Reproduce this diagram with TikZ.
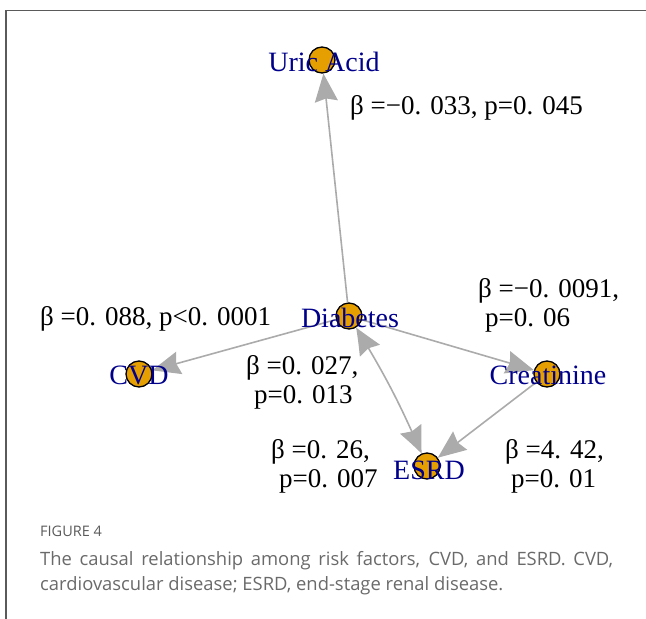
\documentclass[tikz,border=0pt]{standalone}
\usepackage{fontspec}
\setmainfont{Liberation Serif}
\newfontfamily\capfont{Open Sans}
\usetikzlibrary{arrows.meta,bending}
\pgfdeclarelayer{background}
\pgfsetlayers{background,main}
\definecolor{nodeorange}{HTML}{E69F00}
\definecolor{labblue}{HTML}{00008B}
\definecolor{edgegray}{HTML}{ABABAB}
\definecolor{framegray}{HTML}{5A5A5A}
\definecolor{capgray}{HTML}{6A6A6A}
\definecolor{figgray}{HTML}{5A5A5A}
\begin{document}
\begin{tikzpicture}[x=1pt,y=-1pt,
  vert/.style={circle,draw=black,line width=1.3pt,fill=nodeorange,minimum size=26pt,inner sep=0pt},
  vlab/.style={text=labblue,font=\fontsize{28}{30}\selectfont,inner sep=0pt},
  elab/.style={font=\fontsize{27}{29}\selectfont,inner sep=0pt,align=left,anchor=west},
  edgeline/.style={draw=edgegray,line width=1.6pt,-{Stealth[length=28pt,width=23pt,inset=3pt,bend]}}]
\useasboundingbox (0,0) rectangle (646,619);
\draw[framegray,line width=1.6pt] (6,619) -- (6,10.5) -- (646,10.5);
% vertices
\node[vert] (ua) at (322,60) {};
\node[vert] (db) at (349,316) {};
\node[vert] (cvd) at (139,374) {};
\node[vert] (cr) at (547,374) {};
\node[vert] (es) at (427,466) {};
% edges
\begin{pgfonlayer}{background}
\draw[edgeline] (db) -- (ua);
\draw[edgeline] (db) -- (cvd);
\draw[edgeline] (db) -- (cr);
\draw[edgeline] (cr) -- (es);
\draw[draw=edgegray,line width=1.6pt,{Stealth[length=28pt,width=23pt,inset=3pt,bend]}-{Stealth[length=28pt,width=23pt,inset=3pt,bend]}] (db) to[bend left=4] (es);
\end{pgfonlayer}
% vertex labels
\node[vlab] (lua) at (324,62) {Uric Acid};
\node[vlab] (ldb) at (350,318) {Diabetes};
\node[vlab] (lcvd) at (139,375) {CVD};
\node[vlab] (lcr) at (548,375) {Creatinine};
\node[vlab] (les) at (429,470) {ESRD};
% edge labels
\node[elab] (e1) at (350,108) {β =−0. 033, p=0. 045};
\node[elab] (e2) at (40,319) {β =0. 088, p<0. 0001};
\node[elab] (e3) at (478,305) {β =−0. 0091,\\\hspace{7pt}p=0. 06};
\node[elab] (e4) at (246,382) {β =0. 027,\\\hspace{8pt}p=0. 013};
\node[elab] (e5) at (271,466) {β =0. 26,\\\hspace{8pt}p=0. 007};
\node[elab] (e6) at (505,466) {β =4. 42,\\\hspace{6pt}p=0. 01};
% caption
\node[anchor=west,inner sep=0pt,text=figgray,font=\capfont\fontsize{14.5}{16}\selectfont] (fig) at (40,531) {FIGURE 4};
\node[anchor=north west,inner sep=0pt,text=capgray,text width=573pt,align=justify,font=\capfont\fontsize{18.4}{25}\selectfont] (cap) at (40,551) {The causal relationship among risk factors, CVD, and ESRD. CVD,\linebreak cardiovascular disease; ESRD, end-stage renal disease.};
\end{tikzpicture}
\end{document}
